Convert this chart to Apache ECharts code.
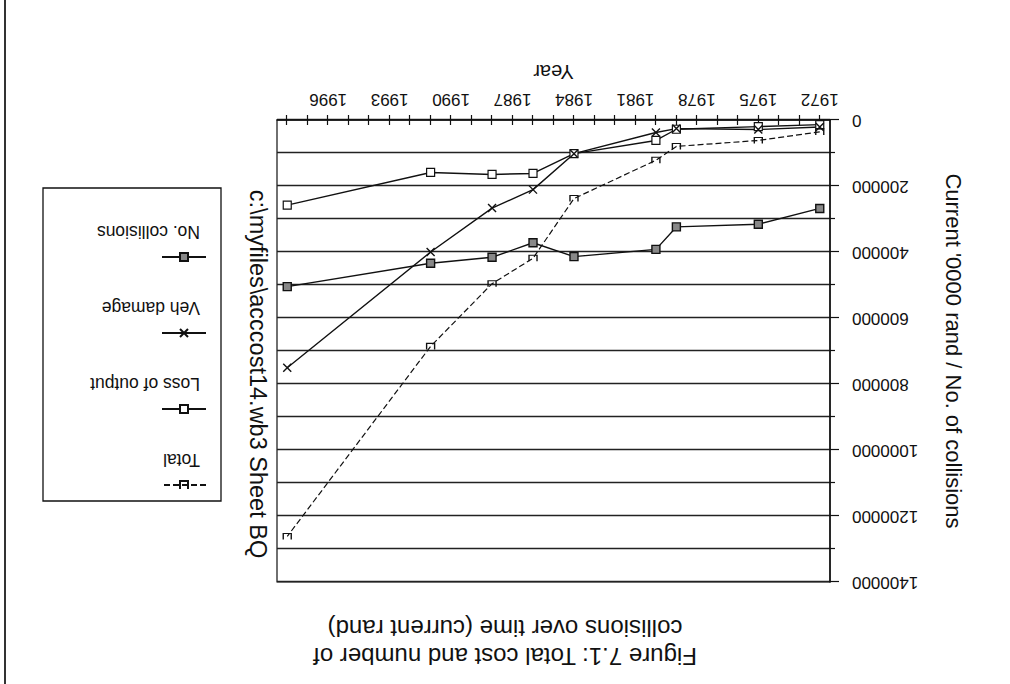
<!DOCTYPE html>
<html>
<head>
<meta charset="utf-8">
<script src="https://cdn.jsdelivr.net/npm/echarts/dist/echarts.min.js"></script>
<style>
html,body{margin:0;padding:0;background:#fff;overflow:hidden;}
#wrap{width:1010px;height:684px;transform:rotate(180deg);transform-origin:50% 50%;}
#chart{width:1010px;height:684px;}
</style>
</head>
<body>
<div id="wrap"><div id="chart"></div></div>
<script>
// ---- data ----
const years = ['1972','1973','1974','1975','1976','1977','1978','1979','1980','1981','1982','1983','1984','1985','1986','1987','1988','1989','1990','1991','1992','1993','1994','1995','1996','1997','1998'];
const yearTickLabels = ['1972','1975','1978','1981','1984','1987','1990','1993','1996'];
const dataYears = ['1972','1975','1979','1980','1984','1986','1988','1991','1998'];
const totalCost     = [36000, 62000, 80000, 122000, 238000, 419000, 496000, 686000, 1262000];
const lossOfOutput  = [14000, 20000, 28000, 62000, 102000, 162000, 165000, 159000, 258000];
const vehDamage     = [21000, 29000, 26000, 38000, 102000, 211000, 267000, 400000, 751000];
const noCollisions  = [268000, 316000, 324000, 392000, 414000, 372000, 416000, 434000, 505000];
const seriesNames = ['Total', 'Loss of output', 'Veh damage', 'No. collisions'];
const yMin = 0, yMax = 1400000, yStep = 200000;

const FONT = '"Liberation Sans", Arial, Helvetica, sans-serif';
const INK = '#111';

function pairs(vals){ return dataYears.map((y,i)=>[y, vals[i]]); }

const chart = echarts.init(document.getElementById('chart'), null, {renderer:'svg'});
chart.setOption({
  animation:false,
  backgroundColor:'#fff',
  title:{
    text:'Figure 7.1: Total cost and number of\ncollisions over time (current rand)',
    left:500, top:9, textAlign:'center',
    textStyle:{fontFamily:FONT, fontSize:24, fontWeight:'normal', color:INK, lineHeight:28}
  },
  legend:[{
    // symbols row of each legend entry
    orient:'vertical', left:803, top:194,
    data:seriesNames,
    itemWidth:44, itemHeight:10, itemGap:66,
    padding:0, selectedMode:false,
    formatter:()=>'',
    textStyle:{fontSize:1}
  },{
    // names, printed under each symbol
    orient:'vertical', left:805, top:215,
    data:seriesNames.map(n=>({name:n, icon:'none'})),
    itemWidth:0, itemHeight:0, itemGap:58,
    padding:0, selectedMode:false,
    textStyle:{fontFamily:FONT, fontSize:17.5, color:INK}
  }],
  grid:{left:180, right:277, top:102, bottom:120, show:true, borderColor:INK, borderWidth:1.2, outerBoundsMode:'none', containLabel:false},
  xAxis:[{
    type:'category', data:years, boundaryGap:true,
    name:'Year', nameLocation:'middle', nameGap:38,
    nameTextStyle:{fontFamily:FONT, fontSize:20, color:INK},
    axisLine:{show:true, lineStyle:{color:INK, width:1.5}},
    axisTick:{show:true, interval:0, alignWithLabel:true, length:5, lineStyle:{color:INK, width:1.2}},
    axisLabel:{interval:(i,v)=>yearTickLabels.indexOf(v)>=0, margin:12, fontFamily:FONT, fontSize:17, color:INK},
    splitLine:{show:false}
  },{
    type:'category', data:years, boundaryGap:true, position:'bottom',
    axisLine:{show:false},
    axisTick:{show:true, inside:true, interval:0, alignWithLabel:true, length:5, lineStyle:{color:INK, width:1.2}},
    axisLabel:{show:false}, splitLine:{show:false}
  }],
  yAxis:{
    type:'value', min:yMin, max:yMax, interval:yStep,
    name:"Current '0000 rand / No. of collisions", nameLocation:'middle', nameGap:112, nameRotate:90,
    nameTextStyle:{fontFamily:FONT, fontSize:22, color:INK},
    axisLine:{show:true, lineStyle:{color:INK, width:1.5}},
    axisTick:{show:true, length:9, lineStyle:{color:INK, width:1.2}},
    minorTick:{show:true, splitNumber:2, length:5, lineStyle:{color:INK, width:1.2}},
    axisLabel:{margin:22, fontFamily:FONT, fontSize:17, color:INK, formatter:v=>String(v)},
    splitLine:{show:true, lineStyle:{color:'#222', width:1.4}},
    minorSplitLine:{show:true, lineStyle:{color:'#222', width:1.4}}
  },
  graphic:[
    {type:'text', x:752, y:310, rotation:Math.PI/2,
     style:{text:'c:\\myfiles\\acccost14.wb3 Sheet BQ', font:'23.5px '+FONT, fill:INK, align:'center', verticalAlign:'middle'}},
    {type:'rect', shape:{x:789, y:183, width:178, height:313}, style:{fill:'none', stroke:INK, lineWidth:1.3}},
    {type:'line', shape:{x1:1005, y1:0, x2:1005, y2:684}, style:{stroke:'#333', lineWidth:2}}
  ],
  series:[
    {name:'Total', type:'line', data:pairs(totalCost), connectNulls:true,
     symbol:'path://M0,0 L0,8 L10,8 L10,0', symbolSize:[8,6],
     lineStyle:{color:INK, width:1.2, type:[6,3]},
     itemStyle:{color:'rgba(0,0,0,0)', borderColor:INK, borderWidth:1.2}},
    {name:'Loss of output', type:'line', data:pairs(lossOfOutput), connectNulls:true,
     symbol:'rect', symbolSize:8,
     lineStyle:{color:INK, width:1.4},
     itemStyle:{color:'#fff', borderColor:INK, borderWidth:1.2}},
    {name:'Veh damage', type:'line', data:pairs(vehDamage), connectNulls:true,
     symbol:'path://M0,0 L10,10 M10,0 L0,10', symbolSize:8,
     lineStyle:{color:INK, width:1.4},
     itemStyle:{color:'rgba(0,0,0,0)', borderColor:INK, borderWidth:1.4}},
    {name:'No. collisions', type:'line', data:pairs(noCollisions), connectNulls:true,
     symbol:'rect', symbolSize:8,
     lineStyle:{color:INK, width:1.4},
     itemStyle:{color:'#888', borderColor:INK, borderWidth:1.4}}
  ]
});
</script>
</body>
</html>
